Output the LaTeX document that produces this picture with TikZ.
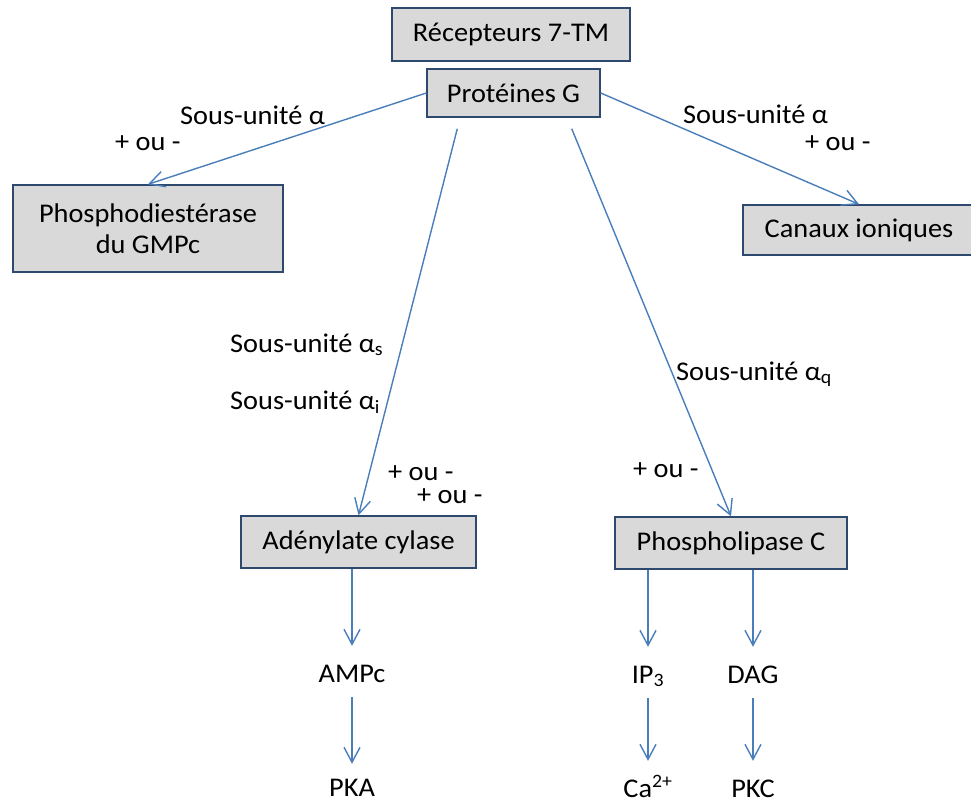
\documentclass[tikz,border=0pt]{standalone}
\usepackage{fontspec}
\setmainfont{Carlito}[FakeStretch=1.05]
\usetikzlibrary{arrows.meta}
\definecolor{trait}{RGB}{74,126,187}
\definecolor{bord}{RGB}{47,72,110}
\definecolor{gris}{RGB}{217,217,217}

\begin{document}
\begin{tikzpicture}[x=1pt,y=-1pt,font=\fontsize{27}{31}\selectfont,
	boite/.style={draw=bord,fill=gris,line width=1.4pt,inner sep=0pt,align=center},
	fleche/.style={draw=trait,line width=1.4pt,-{Straight Barb[length=15pt,width=16pt]}},
	etiq/.style={anchor=base west,inner sep=0pt},
	produit/.style={anchor=base,inner sep=0pt,text height=17pt,text depth=0pt}]
	\useasboundingbox (0,0) rectangle (971,803);
	\node[boite,minimum width=238pt,minimum height=53pt] (recep) at (511,34.5) {Récepteurs 7-TM};
	\node[boite,minimum width=173pt,minimum height=48pt] (pg) at (513.5,93) {Protéines G};
	\node[boite,minimum width=270pt,minimum height=87pt] (pde) at (148,228.5) {Phosphodiestérase\\du GMPc};
	\node[boite,minimum width=232pt,minimum height=50pt] (canaux) at (859,230) {Canaux ioniques};
	\node[boite,minimum width=235pt,minimum height=52pt] (ac) at (358.5,542) {Adénylate cylase};
	\node[boite,minimum width=232pt,minimum height=52pt] (plc) at (731,543) {Phospholipase C};
	\coordinate (pgG) at ([xshift=31pt,yshift=-11pt]pg.south west);
	\coordinate (pgD) at ([xshift=-29pt,yshift=-11pt]pg.south east);
	\draw[fleche] (pg.west) -- (pde.north);
	\draw[fleche] (pg.east) -- (canaux.north);
	\draw[fleche] (pgG) -- (ac.north);
	\draw[fleche] (pgD) -- (plc.north);
	% labels
	\node[etiq] (su1) at (180,124) {Sous-unité α};
	\node[etiq] (pm1) at (115,150) {+ ou -};
	\node[etiq] (su2) at (683,123) {Sous-unité α};
	\node[etiq] (pm2) at (805,150) {+ ou -};
	\node[etiq] (su3) at (230,352) {Sous-unité α\textsubscript{s}};
	\node[etiq] (su4) at (230,409) {Sous-unité α\textsubscript{i}};
	\node[etiq] (pm3) at (388,480) {+ ou -};
	\node[etiq] (pm4) at (417,503) {+ ou -};
	\node[etiq] (su5) at (676,380) {Sous-unité α\textsubscript{q}};
	\node[etiq] (pm5) at (633,477) {+ ou -};
	% seconds messagers
	\node[produit] (ampc) at (352,682) {AMPc};
	\node[produit] (pka) at (352,796) {PKA};
	\node[produit] (ip3) at (648,683) {IP\textsubscript{3}};
	\node[produit] (dag) at (753,683) {DAG};
	\node[produit] (ca) at (648,797) {Ca\textsuperscript{2+}};
	\node[produit] (pkc) at (753,797) {PKC};
	\draw[fleche,shorten >=19pt] (ac.south -| ampc.north) -- (ampc.north);
	\draw[fleche,shorten >=19pt] (plc.south -| ip3.north) -- (ip3.north);
	\draw[fleche,shorten >=19pt] (plc.south -| dag.north) -- (dag.north);
	\draw[fleche,shorten <=15pt,shorten >=15pt] (ampc.south) -- (pka.north);
	\draw[fleche,shorten <=15pt,shorten >=19pt] (ip3.south) -- (ca.north);
	\draw[fleche,shorten <=15pt,shorten >=19pt] (dag.south) -- (pkc.north);
\end{tikzpicture}
\end{document}
